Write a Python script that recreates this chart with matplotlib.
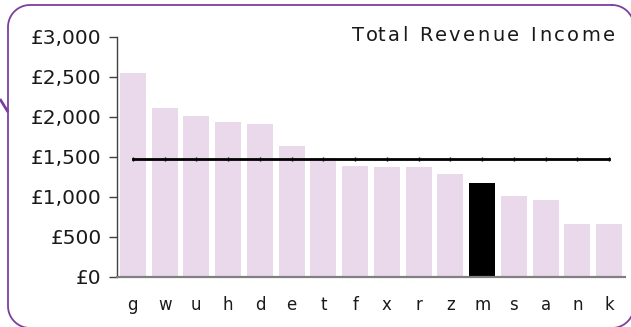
import numpy as np
import matplotlib.pyplot as plt
from matplotlib.textpath import text_to_path
from matplotlib.font_manager import FontProperties

# revenue per area, sorted high to low
areas = ['g', 'w', 'u', 'h', 'd', 'e', 't', 'f', 'x', 'r', 'z', 'm', 's', 'a', 'n', 'k']
revenue = [2550, 2110, 2010, 1935, 1910, 1635, 1490, 1385, 1375, 1375, 1285, 1175, 1010, 960, 665, 665]
highlight = 'm'
average = 1470
yticks = [0, 500, 1000, 1500, 2000, 2500, 3000]
ytick_labels = ['£0', '£500', '£1,000', '£1,500', '£2,000', '£2,500', '£3,000']
title = 'Total Revenue Income'

W, H = 631, 327
fig = plt.figure(figsize=(W / 100, H / 100), dpi=100)

# overlay in pixel units (y measured from the top) for the frame and the title
bg = fig.add_axes([0, 0, 1, 1], zorder=5)
bg.set_xlim(0, W)
bg.set_ylim(H, 0)
bg.axis('off')
bg.patch.set_alpha(0)


def rounded_rect(x0, y0, x1, y1, r, n=20):
    pts = []
    corners = [(x1 - r, y0 + r, -90, 0), (x1 - r, y1 - r, 0, 90),
               (x0 + r, y1 - r, 90, 180), (x0 + r, y0 + r, 180, 270)]
    for cx, cy, a0, a1 in corners:
        t = np.radians(np.linspace(a0, a1, n))
        pts += list(zip(cx + r * np.cos(t), cy + r * np.sin(t)))
    pts.append(pts[0])
    return np.array(pts)


frame = rounded_rect(8, 5, 634, 328, 22)
bg.plot(frame[:, 0], frame[:, 1], color='#7B3F9E', linewidth=1.3, clip_on=False)
bg.plot([0, 8], [99, 112], color='#7B3F9E', linewidth=2, solid_capstyle='butt')

# title with a little extra letter spacing
size_pt = 14
fp = FontProperties(family='DejaVu Sans', size=size_pt)
px = size_pt * 100 / 72
track = 2.6


def advance(s):
    if not s:
        return 0.0
    w, _, _ = text_to_path.get_text_width_height_descent(s, fp, ismath=False)
    return w * px / size_pt


total = advance(title) + track * (len(title) - 1)
x0 = 615 - total
for i, ch in enumerate(title):
    if ch == ' ':
        continue
    bg.text(x0 + advance(title[:i]) + track * i, 41, ch, ha='left', va='baseline',
            fontproperties=fp, color='#1a1a1a')

ax = fig.add_axes([117 / W, 1 - 277 / H, 508 / W, 240 / H])
colors = ['black' if a == highlight else '#EAD8EB' for a in areas]
x = list(range(len(areas)))
ax.bar(x, revenue, width=0.82, color=colors)
ax.plot(x, [average] * len(areas), color='black', linewidth=2,
        marker='|', markersize=3, markeredgewidth=1)

ax.set_xlim(-0.5, len(areas) - 0.5)
ax.set_ylim(0, 3000)
ax.set_yticks(yticks)
ax.set_yticklabels(ytick_labels, fontsize=14.5, color='#1a1a1a')
ax.set_xticks(x)
ax.set_xticklabels(areas, fontsize=12, color='#1a1a1a')
ax.tick_params(axis='x', length=0, pad=14)
ax.tick_params(axis='y', length=6, width=1, color='#404040', pad=5)

for side in ['top', 'right']:
    ax.spines[side].set_visible(False)
ax.spines['left'].set_color('#404040')
ax.spines['left'].set_linewidth(1)
ax.spines['bottom'].set_color('#808080')
ax.spines['bottom'].set_linewidth(1.6)
ax.spines['bottom'].set_zorder(3)

plt.savefig('out.png', dpi=100)
